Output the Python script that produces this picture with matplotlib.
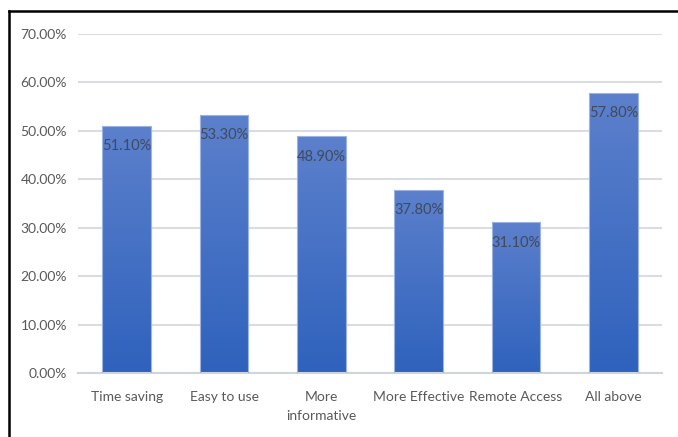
import numpy as np
import matplotlib.pyplot as plt
from matplotlib.lines import Line2D

categories = ['Time saving', 'Easy to use', 'More\ninformative', 'More Effective', 'Remote Access', 'All above']
values = [51.1, 53.3, 48.9, 37.8, 31.1, 57.8]
yticks = [0, 10, 20, 30, 40, 50, 60, 70]

plt.rcParams['font.family'] = ['Lato', 'DejaVu Sans']

fig = plt.figure(figsize=(6.78, 4.37), dpi=100)
ax = fig.add_axes([78 / 678, 1 - 373 / 437, 584 / 678, 339 / 437])

x = np.arange(len(categories))
bars = ax.bar(x, values, width=0.5, color='none', edgecolor='#9db4e2', linewidth=0.8, zorder=3)

# vertical gradient inside each bar, lighter at the top
grad = np.linspace(0, 1, 256).reshape(-1, 1)
cmap = plt.matplotlib.colors.LinearSegmentedColormap.from_list('bar', ['#2f62bd', '#5c80cc'])
for b in bars:
    x0, w, h = b.get_x(), b.get_width(), b.get_height()
    im = ax.imshow(grad, cmap=cmap, origin='lower', aspect='auto',
                   extent=[x0, x0 + w, 0, h], zorder=2)
    im.set_clip_path(b)

for xi, v in zip(x, values):
    ax.text(xi, v - 4.2, '%.2f%%' % v, ha='center', va='center', fontsize=10.5,
            color='#404a5e', zorder=4)

ax.set_xlim(-0.5, len(categories) - 0.5)
ax.set_ylim(0, 70)
ax.set_yticks(yticks)
ax.set_yticklabels(['%.2f%%' % t for t in yticks])
ax.set_xticks(x)
ax.set_xticklabels(categories, linespacing=1.65)
ax.tick_params(axis='both', length=0, colors='#595959', labelsize=10)
ax.tick_params(axis='y', pad=8)
ax.tick_params(axis='x', pad=13)
ax.grid(axis='y', color='#d9dde3', linewidth=1.5, zorder=0)
ax.set_axisbelow(True)
for s in ['top', 'right', 'left']:
    ax.spines[s].set_visible(False)
ax.spines['bottom'].set_color('#d0d5dc')
ax.spines['bottom'].set_linewidth(1.5)

# black frame on the top and left edges
fig.add_artist(Line2D([9 / 678, 1], [1 - 11 / 437, 1 - 11 / 437], color='black', linewidth=1.8))
fig.add_artist(Line2D([9 / 678, 9 / 678], [0, 1 - 11 / 437], color='black', linewidth=1.8))

fig.savefig('out.png', dpi=100)
